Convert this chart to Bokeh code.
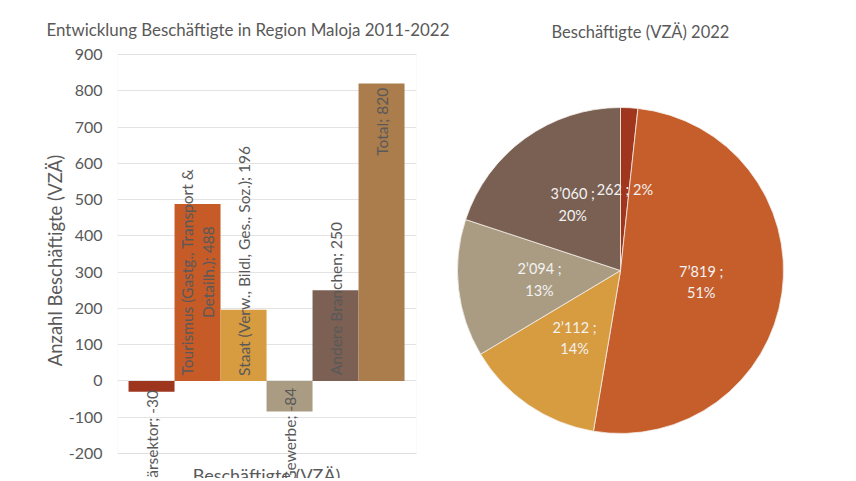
import numpy as np
from bokeh.plotting import figure
from bokeh.models import Label, FixedTicker, Range1d, BoxAnnotation, Title
from bokeh.layouts import row
from bokeh.embed import file_html
from bokeh.resources import INLINE

FONT = "Lato"
GREY = "#595959"
H = 478
TOP = 42
W1 = 456
W2 = 392

# ---------------- data ----------------
bar_title = "Entwicklung Beschäftigte in Region Maloja 2011-2022"
x_title = "Beschäftigte (VZÄ)"
y_title = "Anzahl Beschäftigte (VZÄ)"
bar_categories = ["Primärsektor", "Tourismus (Gastg., Transport &\nDetailh.)",
                  "Staat (Verw., Bildl, Ges., Soz.)", "Gewerbe",
                  "Andere Branchen", "Total"]
bar_values = [-30, 488, 196, -84, 250, 820]
bar_colors = ["#9E361E", "#C65B28", "#D79B40", "#AA9C82", "#7B6053", "#AB7D4C"]
y_ticks = list(range(-200, 901, 100))

pie_title = "Beschäftigte (VZÄ) 2022"
pie_values = [262, 7819, 2112, 2094, 3060]
pie_pct = [2, 51, 14, 13, 20]
pie_colors = ["#A0361E", "#C65E2C", "#D79B40", "#AA9C82", "#7A6052"]

# ---------------- bar chart ----------------
px_per_unit = 399 / 1100.0
y_top = 900 + (54 - TOP) / px_per_unit
y_bot = -200 - (H - 453) / px_per_unit
p1 = figure(width=W1, height=H, output_backend="svg", toolbar_location=None,
            x_range=Range1d(-0.24, 6.26), y_range=Range1d(y_bot, y_top),
            min_border_left=117, min_border_right=W1 - 416, min_border_top=TOP,
            min_border_bottom=0)
p1.add_layout(Title(text=bar_title, align="left", offset=-71, standoff=6,
                    text_font=FONT, text_font_size="16.9px", text_font_style="normal",
                    text_color=GREY), "above")
xs = np.arange(len(bar_values)) + 0.5
p1.vbar(x=xs, top=bar_values, bottom=0, width=1.0, color=bar_colors, line_color=None)

p1.xaxis.visible = False
p1.xgrid.visible = False
p1.ygrid.ticker = FixedTicker(ticks=y_ticks)
p1.ygrid.grid_line_color = "#E3E3E3"
p1.outline_line_color = None
p1.add_layout(BoxAnnotation(bottom=min(y_ticks), top=max(y_ticks), fill_alpha=0,
                            line_color="#DCDCDC", line_width=1, level="underlay"))
ax = p1.yaxis[0]
ax.ticker = FixedTicker(ticks=y_ticks)
ax.major_label_overrides = {t: str(t) for t in y_ticks}
ax.axis_line_color = None
ax.major_tick_line_color = None
ax.minor_tick_line_color = None
ax.major_tick_out = 0
ax.major_tick_in = 0
ax.minor_tick_out = 0
ax.major_label_text_font = FONT
ax.major_label_text_font_size = "16px"
ax.major_label_text_color = GREY
ax.major_label_standoff = 15
ax.axis_label = y_title
ax.axis_label_text_font = FONT
ax.axis_label_text_font_size = "18.5px"
ax.axis_label_text_font_style = "normal"
ax.axis_label_text_color = GREY
ax.axis_label_standoff = 0

# data labels (rotated)
label_anchor = [-25, 300, 14, -19, 16, 808]
label_align = ["right", "center", "left", "right", "left", "right"]
for x, cat, v, ya, al in zip(xs, bar_categories, bar_values, label_anchor, label_align):
    p1.add_layout(Label(x=x, y=ya, text=f"{cat}; {v}", angle=np.pi / 2,
                        text_align=al, text_baseline="middle",
                        text_font=FONT, text_font_size="15.5px", text_color=GREY,
                        text_line_height=1.15))

p1.add_layout(Label(x=3.0, y=-258, text=x_title, text_align="center",
                    text_baseline="middle", text_font=FONT, text_font_size="18px",
                    text_color=GREY))

# ---------------- pie chart ----------------
p2 = figure(width=W2, height=H, output_backend="svg", toolbar_location=None,
            x_range=Range1d(W1 - 620, W1 + W2 - 620), y_range=Range1d(270 - H, 270 - TOP),
            min_border=0, min_border_top=TOP)
p2.axis.visible = False
p2.grid.visible = False
p2.outline_line_color = None

vals = np.array(pie_values, dtype=float)
frac = vals / vals.sum()
cum = np.cumsum(frac)
start = np.pi / 2 - 2 * np.pi * (cum - frac)
end = np.pi / 2 - 2 * np.pi * cum
R = 163
p2.wedge(x=0, y=0, radius=R, start_angle=start, end_angle=end, direction="clock",
         fill_color=pie_colors, line_color="#F4EFEA", line_width=0.8)

mid = (start + end) / 2
for v, pc, a in zip(pie_values, pie_pct, mid):
    num = f"{v:,}".replace(",", "’")
    txt = f"{num} ; {pc}%" if pc < 5 else f"{num} ;\n{pc}%"
    p2.add_layout(Label(x=0.5 * R * np.cos(a), y=0.5 * R * np.sin(a), text=txt,
                        text_align="center", text_baseline="middle",
                        text_font=FONT, text_font_size="14.5px", text_color="#F2F2F2",
                        text_line_height=1.25))

p2.add_layout(Title(text=pie_title, align="left", offset=551 - W1, standoff=1,
                    text_font=FONT, text_font_size="16.5px", text_font_style="normal",
                    text_color=GREY), "above")

layout = row(p1, p2)
open("out.html", "w").write(file_html(layout, INLINE))
